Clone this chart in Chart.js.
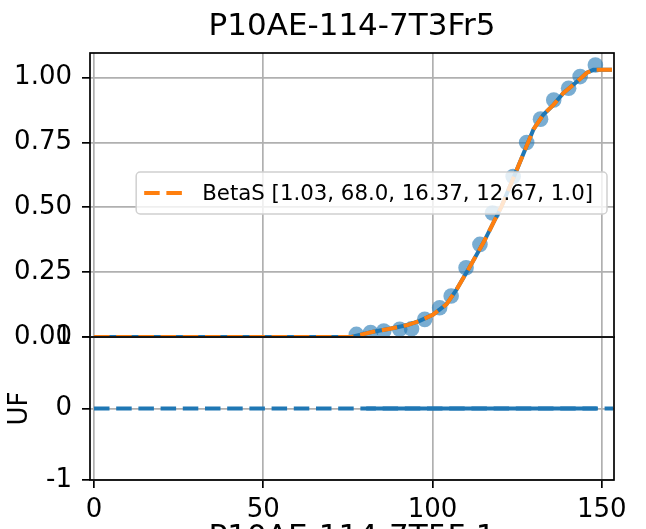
<!DOCTYPE html>
<html>
<head>
<meta charset="utf-8">
<script src="https://cdn.jsdelivr.net/npm/chart.js@4"></script>
<style>
  html, body { margin: 0; padding: 0; background: #fff; overflow: hidden; }
  #wrap { position: relative; width: 646px; height: 529px; overflow: hidden; }
  canvas { position: absolute; left: 0; top: 0; }
</style>
</head>
<body>
<div id="wrap">
  <canvas id="fitChart" width="646" height="529"></canvas>
  <canvas id="ufChart" width="646" height="560"></canvas>
</div>
<script>
const titleText = "P10AE-114-7T3Fr5";
const xLabelText = "P10AE-114-7T5Fr1";
const fitLabel = "BetaS [1.03, 68.0, 16.37, 12.67, 1.0]";

// measured points
const obsX = [77.5, 81.7, 85.6, 90.3, 93.8, 97.7, 102.1, 105.5, 109.9, 114.0, 117.7, 123.8, 127.8, 131.9, 135.8, 140.2, 143.6, 148.1];
const obsY = [0.01, 0.017, 0.023, 0.03, 0.032, 0.068, 0.113, 0.158, 0.267, 0.357, 0.478, 0.619, 0.75, 0.84, 0.914, 0.959, 1.004, 1.049];

// fitted curve
const fitX = [0, 76, 82.4, 87.4, 92.3, 96.2, 100.2, 104.1, 107.1, 111.1, 115.0, 120.4, 124.3, 129.8, 132.7, 135.7, 138.6, 142.1, 145.6, 147.5, 153.0];
const fitY = [0, 0, 0.02, 0.032, 0.045, 0.062, 0.087, 0.126, 0.183, 0.273, 0.363, 0.504, 0.626, 0.8, 0.857, 0.895, 0.94, 0.978, 1.019, 1.03, 1.03];

// UF panel
const ufX = [0, 153.3];
const ufY = [0, 0];
const ufDenseX = [80.4, 148.5];
const ufDenseY = [0, 0];

const xTicks = [0, 50, 100, 150];
const fitYTicks = [0, 0.25, 0.5, 0.75, 1.0];
const ufYTicks = [-1, 0, 1];

Chart.defaults.font.family = "'DejaVu Sans', sans-serif";
Chart.defaults.color = "#000";

const GRID = "#b0b0b0";
const BLUE = "#1f77b4";
const ORANGE = "#ff7f0e";
const DASH = [15.5, 6.7];
const TICK_FONT = 26;
const LEFT = 90, RIGHT = 614, MID = 337, BOTTOM = 480;
const X_MIN = -1.18, X_MAX = 153.6;

const pts = (xs, ys) => xs.map((x, i) => ({ x: x, y: ys[i] }));
const useTicks = vals => s => { s.ticks = vals.map(v => ({ value: v })); };

const framePlugin = {
  id: "frame",
  afterDraw(chart) {
    const a = chart.chartArea, ctx = chart.ctx;
    ctx.save();
    ctx.strokeStyle = "#000";
    ctx.lineWidth = 1.7;
    ctx.strokeRect(a.left, a.top, a.right - a.left, a.bottom - a.top);
    ctx.restore();
  }
};

const legendPlugin = {
  id: "fitLegend",
  afterDraw(chart) {
    const a = chart.chartArea, ctx = chart.ctx;
    ctx.save();
    ctx.font = "21.3px 'DejaVu Sans'";
    const tw = ctx.measureText(fitLabel).width;
    const w = tw + 80, h = 42;
    const x = a.right - 7 - w, y = (a.top + a.bottom) / 2 - h / 2 - 2;
    ctx.beginPath();
    ctx.roundRect(x, y, w, h, 4);
    ctx.fillStyle = "rgba(255,255,255,0.8)";
    ctx.fill();
    ctx.strokeStyle = "#d0d0d0";
    ctx.lineWidth = 1.5;
    ctx.stroke();
    ctx.setLineDash(DASH);
    ctx.strokeStyle = ORANGE;
    ctx.lineWidth = 4;
    ctx.beginPath();
    ctx.moveTo(x + 8, y + h / 2);
    ctx.lineTo(x + 50, y + h / 2);
    ctx.stroke();
    ctx.setLineDash([]);
    ctx.fillStyle = "#000";
    ctx.textBaseline = "middle";
    ctx.fillText(fitLabel, x + 66, y + h / 2 + 1);
    ctx.restore();
  }
};

new Chart(document.getElementById("fitChart"), {
  type: "scatter",
  data: {
    datasets: [
      {
        label: fitLabel,
        data: pts(fitX, fitY),
        showLine: true,
        borderColor: ORANGE,
        borderWidth: 4,
        borderDash: DASH,
        pointRadius: 0,
        pointHoverRadius: 0,
        clip: 0
      },
      {
        data: pts(fitX, fitY),
        showLine: true,
        borderColor: BLUE,
        borderWidth: 4,
        pointRadius: 0,
        pointHoverRadius: 0,
        clip: 0
      },
      {
        data: pts(obsX, obsY),
        pointBackgroundColor: "rgba(31,119,180,0.6)",
        pointBorderWidth: 0,
        pointRadius: 7.8,
        clip: 0
      }
    ]
  },
  options: {
    responsive: false,
    animation: false,
    events: [],
    layout: { padding: { left: 0, right: 646 - RIGHT, top: 0, bottom: 0 } },
    plugins: {
      legend: { display: false },
      tooltip: { enabled: false },
      title: {
        display: true,
        text: titleText,
        fullSize: false,
        color: "#000",
        font: { size: 31, weight: "normal" },
        padding: { top: 8.5, bottom: 7.3 }
      }
    },
    scales: {
      x: {
        type: "linear",
        min: X_MIN,
        max: X_MAX,
        afterBuildTicks: useTicks(xTicks),
        afterFit: s => { s.height = 529 - MID; },
        ticks: { display: false },
        grid: { color: GRID, lineWidth: 1.7, drawTicks: false },
        border: { display: false }
      },
      y: {
        min: 0,
        max: 1.095,
        afterBuildTicks: useTicks(fitYTicks),
        afterFit: s => { s.width = LEFT; },
        ticks: { font: { size: TICK_FONT }, padding: 10, callback: v => v.toFixed(2) },
        grid: { color: GRID, lineWidth: 1.7, tickLength: 8, tickColor: "#000", tickWidth: 1.7 },
        border: { display: false }
      }
    }
  },
  plugins: [framePlugin, legendPlugin]
});

new Chart(document.getElementById("ufChart"), {
  type: "scatter",
  data: {
    datasets: [
      {
        data: pts(ufDenseX, ufDenseY),
        showLine: true,
        borderColor: BLUE,
        borderWidth: 4,
        pointRadius: 0,
        pointHoverRadius: 0,
        clip: 0
      },
      {
        data: pts(ufX, ufY),
        showLine: true,
        borderColor: BLUE,
        borderWidth: 4,
        borderDash: DASH,
        pointRadius: 0,
        pointHoverRadius: 0,
        clip: 0
      }
    ]
  },
  options: {
    responsive: false,
    animation: false,
    events: [],
    layout: { padding: { left: 0, right: 646 - RIGHT, top: MID, bottom: 0 } },
    plugins: { legend: { display: false }, tooltip: { enabled: false } },
    scales: {
      x: {
        type: "linear",
        min: X_MIN,
        max: X_MAX,
        afterBuildTicks: useTicks(xTicks),
        afterFit: s => { s.height = 560 - BOTTOM; },
        ticks: { font: { size: TICK_FONT }, padding: 7, maxRotation: 0 },
        grid: { color: GRID, lineWidth: 1.7, tickLength: 8, tickColor: "#000", tickWidth: 1.7 },
        border: { display: false },
        title: { display: true, text: xLabelText, font: { size: 31 }, padding: { top: 0, bottom: 3 } }
      },
      y: {
        min: -1,
        max: 1,
        afterBuildTicks: useTicks(ufYTicks),
        afterFit: s => { s.width = LEFT; },
        ticks: { font: { size: TICK_FONT }, padding: 10, callback: v => String(v) },
        grid: { color: GRID, lineWidth: 1.7, tickLength: 8, tickColor: "#000", tickWidth: 1.7 },
        border: { display: false },
        title: { display: true, text: "UF", font: { size: TICK_FONT }, padding: { top: 5, bottom: 0 } }
      }
    }
  },
  plugins: [framePlugin]
});
</script>
</body>
</html>
